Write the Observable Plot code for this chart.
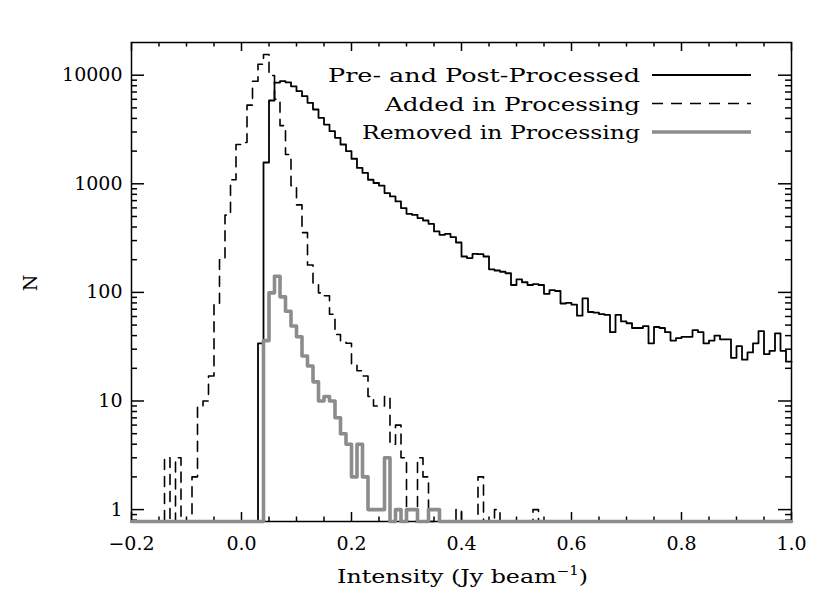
<!DOCTYPE html>
<html>
<head>
<meta charset="utf-8">
<script src="https://cdn.jsdelivr.net/npm/d3@7"></script>
<script src="https://cdn.jsdelivr.net/npm/@observablehq/plot@0.6"></script>
<style>
  html, body { margin: 0; padding: 0; background: #fff; }
  svg { display: block; }
</style>
</head>
<body>
<div id="chart"></div>
<script>
// ---------------- data ----------------
const binWidth = 0.01;
const xRange = [-0.2, 1.0];

// Pre- and Post-Processed (solid black), bins starting at 0.03
const preStart = 0.03;
const preCounts = [
  34, 1570, 5850, 8550, 8800, 8600, 7900, 7130, 6410, 5570,
  4830, 4050, 3510, 3050, 2650, 2300, 1995, 1700, 1400, 1260,
  1090, 1017, 960, 822, 765, 688, 597, 529, 518, 483,
  459, 428, 364, 339, 346, 323, 288, 214, 207, 226,
  225, 214, 163, 159, 155, 150, 117, 132, 124, 117,
  119, 117, 97, 105, 103, 79, 80, 77, 61, 88,
  66, 65, 63, 62, 43, 62, 54, 52, 47, 47,
  49, 34, 48, 47, 43, 36, 38, 39, 39, 45,
  43, 34, 36, 40, 37, 37, 25, 32, 24, 28,
  34, 44, 27, 29, 42, 29, 23
];

// Added in Processing (dashed black), bins starting at -0.14
const addedStart = -0.14;
const addedCounts = [
  3, 0, 3, 0, 0, 2, 9, 10, 17, 77,
  200, 515, 1090, 2300, 2400, 5300, 8800, 12600, 15500, 9950,
  6000, 3430, 1860, 960, 640, 355, 179, 122, 99, 93,
  63, 41, 35, 34, 22, 19, 17, 11, 9, 9,
  11, 4, 6, 3, 0, 0, 3, 2, 0, 0,
  0, 0, 0, 1, 0, 0, 0, 2, 0, 0,
  1, 0, 0, 0, 0, 0, 0, 1
];

// Removed in Processing (thick gray), bins starting at 0.04
const removedStart = 0.04;
const removedCounts = [
  36, 99, 141, 91, 67, 49, 39, 26, 21, 15,
  10, 11, 10, 7, 5, 4, 2, 4, 2, 1,
  1, 1, 3, 0, 1, 0, 1, 1, 0, 0,
  1, 1
];

const seriesNames = ["Pre- and Post-Processed", "Added in Processing", "Removed in Processing"];

const xMajorTicks = [-0.2, 0.0, 0.2, 0.4, 0.6, 0.8, 1.0];
const xMinorTicks = [-0.15, -0.1, -0.05, 0.05, 0.1, 0.15, 0.25, 0.3, 0.35, 0.45, 0.5, 0.55, 0.65, 0.7, 0.75, 0.85, 0.9, 0.95];
const yMajorTicks = [1, 10, 100, 1000, 10000];
const yMinorTicks = [0.8, 0.9, 2, 3, 4, 5, 6, 7, 8, 9, 20, 30, 40, 50, 60, 70, 80, 90,
  200, 300, 400, 500, 600, 700, 800, 900, 2000, 3000, 4000, 5000, 6000, 7000, 8000, 9000];

const xLabel = "Intensity (Jy beam";
const xLabelSup = "−1";
const yLabel = "N";

// ---------------- build step series ----------------
const yDomain = [0.777, 20000];
const nBins = Math.round((xRange[1] - xRange[0]) / binWidth);
function buildSeries(start, counts, name) {
  const s = Math.round((start - xRange[0]) / binWidth);
  const pts = [];
  for (let i = 0; i < nBins; i++) {
    const j = i - s;
    const c = (j >= 0 && j < counts.length) ? counts[j] : 0;
    pts.push({x: +(xRange[0] + i * binWidth).toFixed(4), n: c, series: name});
  }
  pts.push({x: xRange[1], n: pts[pts.length - 1].n, series: name});
  return pts;
}
const pre = buildSeries(preStart, preCounts, seriesNames[0]);
const added = buildSeries(addedStart, addedCounts, seriesNames[1]);
const removed = buildSeries(removedStart, removedCounts, seriesNames[2]);
const yVal = d => Math.max(d.n, yDomain[0]);

const W = 830, H = 604;
const mL = 131, mR = 39, mT = 42, mB = 83;
const fw = W - mL - mR, fh = H - mT - mB;

const plot = Plot.plot({
  width: W,
  height: H,
  marginLeft: mL,
  marginRight: mR,
  marginTop: mT,
  marginBottom: mB,
  x: {domain: xRange},
  y: {type: "log", domain: yDomain},
  style: {fontFamily: "DejaVu Serif", fontSize: "19px", color: "black", background: "white"},
  marks: [
    Plot.line(pre, {x: "x", y: yVal, curve: "step-after", stroke: "black", strokeWidth: 1.8}),
    Plot.line(added, {x: "x", y: yVal, curve: "step-after", stroke: "black", strokeWidth: 1.6, strokeDasharray: "10,7"}),
    // ticks (inward, all four sides)
    Plot.tickX(xMajorTicks, {x: d => d, insetTop: fh - 9, stroke: "black", strokeWidth: 1.5}),
    Plot.tickX(xMajorTicks, {x: d => d, insetBottom: fh - 9, stroke: "black", strokeWidth: 1.5}),
    Plot.tickX(xMinorTicks, {x: d => d, insetTop: fh - 4.5, stroke: "black", strokeWidth: 1.5}),
    Plot.tickX(xMinorTicks, {x: d => d, insetBottom: fh - 4.5, stroke: "black", strokeWidth: 1.5}),
    Plot.tickY(yMajorTicks, {y: d => d, insetRight: fw - 13, stroke: "black", strokeWidth: 1.5}),
    Plot.tickY(yMajorTicks, {y: d => d, insetLeft: fw - 13, stroke: "black", strokeWidth: 1.5}),
    Plot.tickY(yMinorTicks, {y: d => d, insetRight: fw - 6, stroke: "black", strokeWidth: 1.5}),
    Plot.tickY(yMinorTicks, {y: d => d, insetLeft: fw - 6, stroke: "black", strokeWidth: 1.5}),
    Plot.frame({stroke: "black", strokeWidth: 1.5}),
    Plot.line(removed, {x: "x", y: yVal, curve: "step-after", stroke: "#8c8c8c", strokeWidth: 3.6}),
    Plot.axisX({ticks: xMajorTicks, tickSize: 0, tickPadding: 15, tickFormat: d3.format(".1f"), label: null}),
    Plot.axisY({ticks: yMajorTicks, tickSize: 0, tickPadding: 9, tickFormat: d => String(d), label: null})
  ]
});

document.getElementById("chart").appendChild(plot);

// ---------------- titles and legend ----------------
const svg = d3.select(plot);
const g = svg.append("g")
  .attr("font-family", "DejaVu Serif")
  .attr("font-size", 19)
  .attr("fill", "black");

const xt = g.append("text")
  .attr("x", 337).attr("y", 583)
  .attr("text-anchor", "start");
xt.append("tspan").text(xLabel);
xt.append("tspan").attr("dy", -8).attr("font-size", 12).text(xLabelSup);
xt.append("tspan").attr("dy", 8).text(")");
xt.attr("textLength", 251).attr("lengthAdjust", "spacingAndGlyphs");

g.append("text")
  .attr("transform", "translate(37,283) rotate(-90)")
  .attr("text-anchor", "middle")
  .text(yLabel);

const legendStyles = [
  {stroke: "black", width: 1.8, dash: null, textLen: 312},
  {stroke: "black", width: 1.6, dash: "11,8", textLen: 255},
  {stroke: "#8c8c8c", width: 3.6, dash: null, textLen: 278}
];
seriesNames.forEach((name, i) => {
  const ly = 75 + i * 28.5;
  const st = legendStyles[i];
  const ln = g.append("line")
    .attr("x1", 652).attr("x2", 751).attr("y1", ly).attr("y2", ly)
    .attr("stroke", st.stroke).attr("stroke-width", st.width);
  if (st.dash) ln.attr("stroke-dasharray", st.dash);
  g.append("text")
    .attr("x", 640).attr("y", ly + 7)
    .attr("text-anchor", "end")
    .attr("textLength", st.textLen).attr("lengthAdjust", "spacingAndGlyphs")
    .text(name);
});
</script>
</body>
</html>
